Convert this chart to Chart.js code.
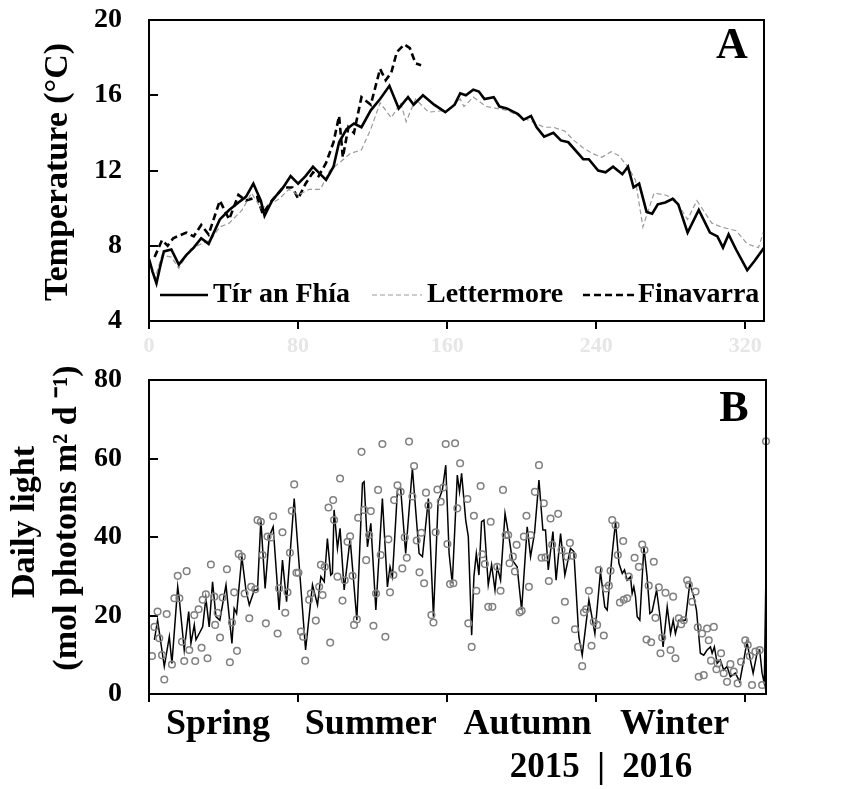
<!DOCTYPE html>
<html>
<head>
<meta charset="utf-8">
<script src="https://cdn.jsdelivr.net/npm/chart.js@4.4.1/dist/chart.umd.min.js"></script>
<style>
  body { margin: 0; background: #fff; }
  #wrap { position: relative; width: 846px; height: 789px; }
  canvas { position: absolute; left: 0; }
  #chartA { top: 0; }
  #chartB { top: 361px; }
</style>
</head>
<body>
<div id="wrap">
  <canvas id="chartA" width="846" height="361"></canvas>
  <canvas id="chartB" width="846" height="428"></canvas>
</div>
<script>
// x axis: days from the start of spring 2015
const dayTicks = [0, 80, 160, 240, 320];
const seasons = ['Spring', 'Summer', 'Autumn', 'Winter'];
const seasonMid = [37, 119, 203, 282];

// panel A - temperature (°C)
const tirDays = [0, 2, 4, 6, 8, 12, 16, 20, 24, 28, 32, 38, 43, 48, 52, 56, 60, 62, 66, 72,
  76, 80, 84, 88, 91, 95, 99, 102, 106, 110, 114, 119, 124, 129, 134, 139, 142, 147, 153, 159,
  164, 167, 170, 174, 177, 180, 185, 188, 192, 198, 201, 205, 208, 212, 217, 221, 225, 233, 236, 241,
  245, 249, 254, 257, 260, 263, 267, 270, 273, 277, 281, 284, 289, 295, 301, 305, 308, 311, 315, 321,
  325, 330];
const tirTemp = [7.3, 6.6, 6.0, 6.9, 7.7, 7.8, 7.0, 7.5, 7.9, 8.4, 8.1, 9.4, 9.9, 10.3, 10.6, 11.3, 10.4, 9.6, 10.4, 11.1,
  11.7, 11.3, 11.7, 12.2, 11.9, 11.5, 12.2, 13.5, 14.2, 14.5, 14.3, 15.2, 15.8, 16.5, 15.3, 15.9, 15.5, 16.0, 15.5, 15.1,
  15.5, 16.1, 16.0, 16.3, 16.2, 15.8, 15.9, 15.4, 15.3, 15.0, 14.7, 14.9, 14.3, 13.8, 14.0, 13.6, 13.5, 12.6, 12.6, 12.0,
  11.9, 12.2, 11.8, 12.2, 11.1, 11.3, 9.8, 9.7, 10.2, 10.3, 10.5, 10.2, 8.7, 9.9, 8.7, 8.5, 7.9, 8.6, 7.8, 6.7,
  7.2, 7.9];

const letDays = [0, 3, 7, 12, 16, 22, 28, 33, 38, 43, 50, 55, 60, 65, 70, 75, 80, 86, 92, 97,
  102, 108, 114, 119, 124, 130, 135, 138, 143, 150, 160, 167, 169, 174, 181, 192, 203, 212, 217, 223,
  228, 233, 238, 243, 248, 252, 257, 261, 265, 271, 277, 282, 289, 294, 302, 307, 315, 321, 327, 330];
const letTemp = [7.1, 6.2, 7.5, 7.4, 6.8, 7.8, 8.1, 8.3, 9.0, 9.2, 9.9, 10.8, 10.0, 10.2, 10.5, 11.0, 10.7, 11.0, 11.0, 12.0,
  12.4, 12.9, 13.1, 14.2, 15.6, 14.8, 15.6, 14.6, 15.8, 15.1, 15.2, 15.8, 15.4, 15.9, 15.4, 15.2, 14.7, 14.3, 14.3, 14.1,
  13.6, 13.2, 12.9, 12.7, 13.0, 12.8, 12.2, 11.5, 9.0, 10.8, 10.7, 10.5, 9.4, 10.4, 9.2, 9.0, 8.8, 8.1, 7.9, 8.8];

const finDays = [3, 7, 10, 13, 20, 24, 28, 32, 38, 43, 48, 52, 58, 61, 66, 72, 77, 80, 84, 88,
  91, 95, 99, 102, 104, 107, 110, 114, 119, 124, 127, 130, 133, 137, 140, 143, 146];
const finTemp = [7.4, 8.3, 8.0, 8.4, 8.7, 8.5, 9.1, 8.6, 10.4, 9.4, 10.7, 10.4, 10.6, 9.7, 10.4, 11.1, 11.1, 10.5, 11.3, 11.9,
  11.7, 12.4, 13.5, 14.9, 12.7, 14.3, 14.0, 15.9, 15.5, 17.4, 16.8, 17.2, 18.3, 18.7, 18.5, 17.7, 17.6];

// panel B - daily light (mol photons m-2 d-1)
const lineDays = [2.9, 4.6, 8.2, 10.9, 12.3, 15.4, 16.3, 18.9, 21.3, 22.5,
  24.3, 25.2, 28.8, 30.5, 32.3, 34.1, 35.9, 38.0, 41.3, 44.5,
  45.7, 47.0, 49.8, 52.0, 53.8, 56.5, 58.2, 60.0, 62.3, 64.5,
  66.6, 69.8, 71.6, 73.8, 77.9, 80.9, 84.0, 87.7, 90.4, 92.2,
  94.0, 95.7, 97.5, 98.4, 99.3, 101.1, 102.5, 104.7, 107.9, 111.5,
  114.5, 115.4, 117.2, 119.0, 121.7, 125.2, 127.9, 129.3, 130.6, 133.3,
  135.0, 137.7, 141.3, 144.9, 146.7, 149.9, 152.6, 155.1, 157.4, 159.2,
  161.0, 162.7, 165.4, 166.6, 167.7, 169.9, 171.3, 173.1, 174.3, 175.6,
  177.0, 178.4, 179.7, 182.0, 183.8, 185.6, 186.8, 188.6, 191.0, 193.1,
  194.9, 197.5, 199.9, 202.9, 204.7, 206.8, 209.2, 211.3, 212.7, 214.2,
  216.7, 218.4, 220.8, 223.1, 226.1, 227.9, 230.6, 232.4, 236.0, 239.2,
  242.2, 244.5, 245.8, 248.5, 250.3, 252.1, 253.9, 255.1, 256.5, 258.3,
  259.2, 260.1, 261.0, 261.9, 263.3, 265.5, 267.2, 268.7, 269.9, 272.3,
  274.4, 275.8, 278.0, 279.8, 281.2, 282.4, 284.2, 287.8, 290.1, 292.3,
  293.7, 295.8, 297.6, 299.4, 301.2, 302.1, 303.3, 304.8, 306.5, 308.3,
  310.1, 311.9, 314.6, 316.9, 319.1, 320.8, 322.6, 324.1, 326.2, 327.6,
  328.9, 330.1, 332];
const lineVals = [13.8, 18.8, 7.0, 14.6, 7.8, 27.3, 23.9, 11.2, 21.0, 12.9,
  17.6, 13.8, 17.1, 24.4, 17.1, 28.6, 19.7, 18.8, 27.8, 12.9,
  21.8, 20.5, 35.0, 26.5, 22.7, 26.5, 26.5, 44.3, 26.9, 40.1,
  42.6, 21.4, 34.1, 23.5, 49.8, 30.7, 11.2, 27.8, 22.7, 29.9,
  28.6, 39.6, 30.3, 30.7, 46.9, 37.1, 42.2, 26.5, 39.6, 18.8,
  53.7, 54.1, 37.5, 43.5, 21.4, 49.8, 27.3, 32.4, 29.9, 52.0,
  52.4, 35.8, 57.5, 35.8, 35.0, 49.8, 19.7, 49.0, 52.0, 58.3,
  35.8, 28.2, 55.8, 51.5, 56.2, 44.3, 40.1, 15.0, 29.9, 35.8,
  30.3, 43.9, 44.3, 27.8, 32.9, 26.5, 32.4, 29.0, 46.0, 40.1,
  34.1, 32.4, 21.4, 42.6, 35.0, 40.9, 54.5, 41.8, 41.8, 31.6,
  41.4, 29.0, 40.9, 30.3, 37.1, 36.3, 14.6, 9.9, 24.0, 15.4,
  31.2, 22.2, 21.4, 35.8, 43.9, 33.3, 30.7, 31.6, 29.0, 29.9,
  25.6, 27.3, 24.8, 19.7, 18.8, 37.5, 29.9, 20.5, 21.0, 26.5,
  18.8, 12.0, 22.2, 15.4, 18.8, 15.4, 18.8, 18.8, 28.2, 24.8,
  21.4, 10.4, 9.9, 11.2, 12.0, 10.4, 12.0, 7.8, 8.7, 6.1,
  7.0, 4.4, 5.3, 3.1, 8.7, 13.3, 8.7, 5.3, 10.4, 11.2,
  5.3, 2.7, 64];

const dotDays = [1.6, 2.9, 4.6, 5.5, 7.0, 8.2, 9.5, 12.3, 13.6, 15.4,
  16.3, 17.7, 18.9, 20.2, 21.6, 24.3, 24.8, 26.6, 28.2, 28.8,
  30.5, 31.4, 33.2, 35.0, 35.5, 36.8, 38.1, 39.5, 41.8, 43.4,
  44.5, 45.7, 47.2, 48.1, 49.8, 51.3, 53.8, 54.8, 57.0, 58.2,
  60.0, 60.9, 62.7, 63.6, 65.4, 66.6, 69.0, 69.8, 71.6, 73.1,
  74.3, 75.6, 76.6, 77.9, 79.1, 80.2, 81.5, 82.7, 83.8, 85.9,
  86.8, 89.5, 91.3, 92.2, 93.1, 94.3, 96.3, 97.2, 98.8, 99.3,
  101.1, 102.5, 103.8, 105.0, 106.5, 107.9, 109.2, 110.0, 111.5, 112.2,
  114.0, 115.4, 116.5, 118.1, 119.0, 120.4, 121.8, 122.9, 124.3, 125.2,
  126.8, 128.4, 129.3, 131.1, 131.5, 133.3, 135.0, 135.9, 137.2, 138.3,
  139.5, 141.3, 142.2, 143.6, 145.1, 146.1, 147.6, 148.6, 149.9, 151.5,
  152.6, 153.8, 154.7, 156.5, 157.9, 159.2, 160.1, 161.5, 163.3, 164.2,
  165.4, 166.9, 170.8, 171.3, 173.1, 174.3, 175.6, 177.9, 178.8, 180.2,
  182.0, 183.3, 184.2, 186.8, 188.6, 189.9, 191.3, 192.7, 193.4, 195.2,
  196.3, 197.2, 198.8, 199.9, 201.1, 202.5, 203.8, 204.7, 207.0, 209.2,
  210.6, 211.8, 212.7, 214.5, 215.4, 216.3, 218.1, 219.5, 221.3, 223.1,
  224.3, 225.8, 227.4, 228.5, 230.2, 232.4, 233.3, 234.5, 236.0, 237.4,
  238.6, 240.4, 241.3, 244.0, 245.2, 246.7, 247.6, 248.5, 250.3, 251.5,
  252.6, 254.4, 254.7, 256.5, 257.4, 260.5, 262.8, 264.6, 265.8, 266.9,
  268.1, 269.4, 270.8, 271.7, 273.5, 274.4, 275.3, 277.1, 279.8, 281.2,
  282.4, 284.2, 285.5, 286.9, 288.7, 289.6, 291.4, 293.2, 294.4, 294.9,
  296.7, 297.6, 299.4, 300.3, 301.5, 303.0, 304.4, 305.1, 306.9, 308.3,
  310.1, 311.9, 313.7, 315.8, 317.6, 319.9, 321.2, 322.3, 323.5, 325.3,
  327.6, 328.9, 331];
const dotVals = [9.7, 17.1, 21.0, 14.2, 9.9, 3.7, 20.4, 7.5, 24.4, 30.1,
  24.4, 13.3, 8.4, 31.3, 11.2, 20.1, 8.4, 21.6, 11.8, 24.0,
  25.4, 9.1, 33.0, 24.8, 17.6, 20.7, 14.4, 24.6, 31.8, 8.1,
  18.2, 25.9, 11.0, 35.7, 35.0, 25.6, 19.3, 27.3, 26.7, 44.3,
  43.9, 35.4, 18.0, 40.1, 39.9, 45.3, 15.4, 26.9, 41.2, 20.7,
  25.9, 36.0, 46.7, 53.4, 30.9, 30.9, 15.9, 14.6, 8.5, 24.0,
  25.6, 18.7, 27.3, 32.9, 25.2, 32.4, 47.5, 13.1, 49.4, 44.3,
  29.9, 54.9, 23.8, 29.0, 38.8, 40.2, 30.1, 17.6, 19.0, 44.9,
  61.7, 46.9, 34.1, 40.5, 46.6, 17.4, 25.6, 52.0, 35.4, 63.7,
  14.6, 39.4, 25.9, 30.3, 49.4, 53.2, 51.5, 32.0, 39.9, 34.7,
  64.3, 50.3, 58.1, 39.1, 31.0, 41.1, 28.2, 51.3, 48.0, 20.1,
  18.2, 41.2, 52.1, 49.0, 52.6, 63.7, 38.2, 28.0, 28.2, 63.9,
  47.3, 58.8, 49.7, 18.0, 12.0, 45.4, 26.3, 53.0, 35.6, 33.1,
  22.2, 43.9, 22.2, 32.4, 26.3, 52.0, 40.5, 40.5, 33.3, 35.0,
  31.2, 38.0, 20.8, 21.2, 40.1, 45.4, 27.3, 40.5, 51.5, 58.3,
  34.7, 48.6, 34.8, 28.8, 44.7, 38.0, 18.8, 45.9, 36.7, 23.5,
  35.0, 38.5, 35.2, 16.5, 12.0, 7.1, 20.8, 21.6, 26.3, 12.3,
  18.4, 17.6, 31.6, 14.9, 26.9, 27.6, 31.4, 44.3, 43.0, 35.4,
  23.3, 39.0, 24.0, 24.4, 29.9, 34.7, 32.4, 38.1, 36.7, 13.9,
  27.6, 13.2, 33.7, 19.4, 27.2, 10.4, 14.4, 25.8, 11.2, 24.8,
  9.1, 19.3, 17.8, 18.8, 29.0, 27.8, 23.5, 26.1, 17.0, 4.4,
  15.4, 4.8, 16.7, 13.7, 8.5, 17.1, 6.3, 7.8, 10.4, 5.3,
  3.1, 7.6, 5.7, 2.7, 8.2, 13.7, 12.5, 9.7, 2.3, 10.8,
  11.2, 2.3, 64.4];

const SERIF = "'Liberation Serif', 'Times New Roman', serif";

function pairs(xs, ys) {
  return xs.map((x, i) => ({ x: x, y: ys[i] }));
}

// full black box round the plot area
const frame = {
  id: 'frame',
  afterDatasetsDraw(chart) {
    const a = chart.chartArea, ctx = chart.ctx;
    ctx.save();
    ctx.strokeStyle = '#000';
    ctx.lineWidth = 2;
    ctx.strokeRect(a.left, a.top, a.right - a.left, a.bottom - a.top);
    ctx.restore();
  }
};

// axis titles, panel letters and other loose text
const panelText = {
  id: 'panelText',
  afterDraw(chart, args, opts) {
    const ctx = chart.ctx;
    (opts.items || []).forEach(t => {
      ctx.save();
      ctx.translate(t.x, t.y);
      if (t.rotate) ctx.rotate(t.rotate);
      ctx.font = 'bold ' + t.size + 'px ' + SERIF;
      ctx.fillStyle = '#000';
      ctx.textAlign = 'center';
      ctx.textBaseline = 'middle';
      ctx.fillText(t.text, 0, 0);
      ctx.restore();
    });
  }
};

// legend sitting inside the plot area, built from the datasets
const lineLegend = {
  id: 'lineLegend',
  afterDraw(chart, args, opts) {
    const ctx = chart.ctx;
    chart.data.datasets.forEach((ds, i) => {
      const p = opts.spots[i];
      ctx.save();
      ctx.strokeStyle = ds.borderColor;
      ctx.lineWidth = ds.borderWidth;
      ctx.setLineDash(ds.borderDash || []);
      ctx.beginPath();
      ctx.moveTo(p[0], opts.y);
      ctx.lineTo(p[1], opts.y);
      ctx.stroke();
      ctx.font = 'bold 28px ' + SERIF;
      ctx.fillStyle = '#000';
      ctx.textAlign = 'left';
      ctx.textBaseline = 'middle';
      ctx.fillText(ds.label, p[2], opts.y);
      ctx.restore();
    });
  }
};

function yAxis(min, max, step) {
  return {
    min: min,
    max: max,
    afterFit: s => { s.width = 149; s.paddingTop = 0; s.paddingBottom = 0; },
    border: { display: false },
    grid: { drawOnChartArea: false, tickLength: -9, color: '#000', lineWidth: 2 },
    ticks: { stepSize: step, color: '#000', padding: 36, font: { family: SERIF, size: 28, weight: 'bold' } }
  };
}

function dayAxis(max, height, labelColor) {
  return {
    type: 'linear',
    min: 0,
    max: max,
    afterBuildTicks: s => { s.ticks = dayTicks.map(v => ({ value: v })); },
    afterFit: s => { s.height = height; s.paddingLeft = 0; s.paddingRight = 0; },
    border: { display: false },
    grid: { drawOnChartArea: false, tickLength: 8, color: '#000', lineWidth: 2 },
    ticks: { color: labelColor, padding: 4, maxRotation: 0, autoSkip: false,
      font: { family: SERIF, size: 22, weight: 'bold' } }
  };
}

new Chart(document.getElementById('chartA'), {
  type: 'line',
  data: {
    datasets: [{
      label: 'Tír an Fhía',
      data: pairs(tirDays, tirTemp),
      borderColor: '#000',
      borderWidth: 2.6,
      pointRadius: 0
    }, {
      label: 'Lettermore',
      data: pairs(letDays, letTemp),
      borderColor: '#9a9a9a',
      borderWidth: 1.2,
      borderDash: [5, 3],
      pointRadius: 0
    }, {
      label: 'Finavarra',
      data: pairs(finDays, finTemp),
      borderColor: '#000',
      borderWidth: 2.6,
      borderDash: [7, 4],
      pointRadius: 0
    }]
  },
  options: {
    responsive: false,
    animation: false,
    layout: { padding: { top: 20, right: 82, left: 0, bottom: 0 } },
    plugins: {
      legend: { display: false },
      tooltip: { enabled: false },
      lineLegend: { y: 295, spots: [[160, 208, 213], [372, 422, 427], [583, 634, 638]] },
      panelText: { items: [
        { text: 'Temperature (°C)', x: 58, y: 172, size: 34, rotate: -Math.PI / 2 },
        { text: 'A', x: 732, y: 47, size: 44 }
      ] }
    },
    scales: {
      x: dayAxis(330, 40, '#e6e6e6'),
      y: yAxis(4, 20, 4)
    }
  },
  plugins: [frame, lineLegend, panelText]
});

const xB = dayAxis(331, 8, '#000');
xB.ticks.display = false;
xB.weight = 0;

new Chart(document.getElementById('chartB'), {
  type: 'scatter',
  data: {
    datasets: [{
      label: 'daily light',
      data: pairs(lineDays, lineVals),
      showLine: true,
      borderColor: '#000',
      borderWidth: 1.5,
      pointRadius: 0,
      order: 2
    }, {
      label: 'daily light (circles)',
      data: pairs(dotDays, dotVals),
      showLine: false,
      pointRadius: 3.3,
      pointBorderWidth: 1.5,
      pointBorderColor: '#808080',
      pointBackgroundColor: 'rgba(0,0,0,0)',
      clip: false,
      order: 1
    }]
  },
  options: {
    responsive: false,
    animation: false,
    layout: { padding: { top: 19, right: 80, left: 0, bottom: 0 } },
    plugins: {
      legend: { display: false },
      tooltip: { enabled: false },
      panelText: { items: [
        { text: 'Daily light', x: 25, y: 161, size: 34, rotate: -Math.PI / 2 },
        { text: '(mol photons m² d ⁻¹)', x: 67, y: 157, size: 34, rotate: -Math.PI / 2 },
        { text: 'B', x: 734, y: 49, size: 44 },
        { text: '2015  |  2016', x: 601, y: 407, size: 35 }
      ] }
    },
    scales: {
      x: xB,
      season: {
        type: 'linear',
        position: 'bottom',
        weight: 1,
        min: 0,
        max: 331,
        afterBuildTicks: s => { s.ticks = seasonMid.map(v => ({ value: v })); },
        afterFit: s => { s.height = 87; s.paddingLeft = 0; s.paddingRight = 0; },
        border: { display: false },
        grid: { display: false },
        ticks: {
          color: '#000', padding: -7, maxRotation: 0, autoSkip: false,
          font: { family: SERIF, size: 36, weight: 'bold' },
          callback: (v, i) => seasons[i]
        }
      },
      y: yAxis(0, 80, 20)
    }
  },
  plugins: [frame, panelText]
});
</script>
</body>
</html>
